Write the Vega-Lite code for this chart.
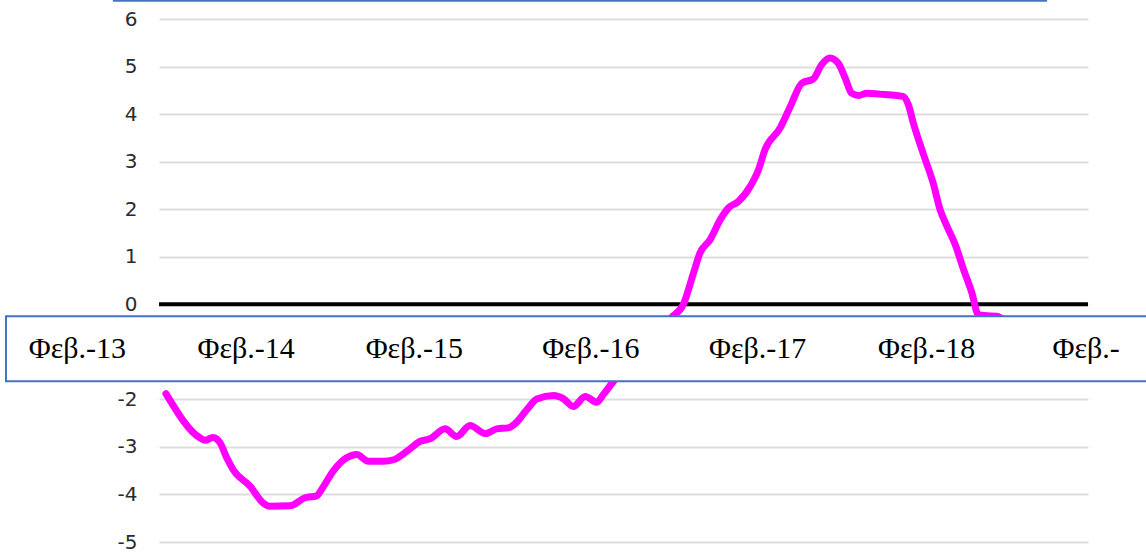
{
  "$schema": "https://vega.github.io/schema/vega-lite/v6.json",
  "autosize": "none",
  "width": 929,
  "height": 523,
  "padding": {"left": 159, "top": 19, "right": 58, "bottom": 12},
  "background": "white",
  "config": {"view": {"stroke": null}},
  "datasets": {
    "series": [
      {"date": "2013-08-10", "value": -1.88},
      {"date": "2013-10-23", "value": -2.81},
      {"date": "2013-11-03", "value": -2.86},
      {"date": "2013-11-20", "value": -2.8},
      {"date": "2013-12-06", "value": -2.92},
      {"date": "2013-12-20", "value": -3.23},
      {"date": "2014-01-03", "value": -3.48},
      {"date": "2014-02-09", "value": -3.83},
      {"date": "2014-03-09", "value": -4.18},
      {"date": "2014-03-24", "value": -4.25},
      {"date": "2014-05-06", "value": -4.24},
      {"date": "2014-06-08", "value": -4.07},
      {"date": "2014-07-03", "value": -4.03},
      {"date": "2014-07-18", "value": -3.83},
      {"date": "2014-08-08", "value": -3.51},
      {"date": "2014-09-06", "value": -3.23},
      {"date": "2014-09-28", "value": -3.16},
      {"date": "2014-10-23", "value": -3.3},
      {"date": "2014-11-25", "value": -3.3},
      {"date": "2014-12-17", "value": -3.27},
      {"date": "2015-01-15", "value": -3.09},
      {"date": "2015-02-13", "value": -2.88},
      {"date": "2015-03-06", "value": -2.83},
      {"date": "2015-04-08", "value": -2.62},
      {"date": "2015-05-03", "value": -2.78},
      {"date": "2015-06-01", "value": -2.55},
      {"date": "2015-07-04", "value": -2.72},
      {"date": "2015-07-29", "value": -2.62},
      {"date": "2015-08-23", "value": -2.6},
      {"date": "2015-09-10", "value": -2.48},
      {"date": "2015-10-02", "value": -2.22},
      {"date": "2015-10-24", "value": -1.99},
      {"date": "2015-11-29", "value": -1.92},
      {"date": "2015-12-21", "value": -1.99},
      {"date": "2016-01-11", "value": -2.15},
      {"date": "2016-02-06", "value": -1.94},
      {"date": "2016-03-02", "value": -2.06},
      {"date": "2016-03-16", "value": -1.9},
      {"date": "2016-04-04", "value": -1.66},
      {"date": "2016-05-02", "value": -1.35},
      {"date": "2016-06-04", "value": -0.95},
      {"date": "2016-07-07", "value": -0.6},
      {"date": "2016-08-12", "value": -0.27},
      {"date": "2016-09-06", "value": 0.0},
      {"date": "2016-09-28", "value": 0.66},
      {"date": "2016-10-12", "value": 1.08},
      {"date": "2016-11-03", "value": 1.36},
      {"date": "2016-11-25", "value": 1.78},
      {"date": "2016-12-13", "value": 2.03},
      {"date": "2017-01-03", "value": 2.16},
      {"date": "2017-01-29", "value": 2.48},
      {"date": "2017-02-16", "value": 2.83},
      {"date": "2017-03-02", "value": 3.25},
      {"date": "2017-04-04", "value": 3.71},
      {"date": "2017-04-26", "value": 4.16},
      {"date": "2017-05-21", "value": 4.65},
      {"date": "2017-06-15", "value": 4.74},
      {"date": "2017-07-03", "value": 5.04},
      {"date": "2017-07-21", "value": 5.18},
      {"date": "2017-08-08", "value": 5.07},
      {"date": "2017-08-23", "value": 4.76},
      {"date": "2017-09-06", "value": 4.44},
      {"date": "2017-09-21", "value": 4.39},
      {"date": "2017-10-09", "value": 4.44},
      {"date": "2017-11-07", "value": 4.42},
      {"date": "2017-12-13", "value": 4.39},
      {"date": "2017-12-27", "value": 4.37},
      {"date": "2018-01-07", "value": 4.2},
      {"date": "2018-01-18", "value": 3.81},
      {"date": "2018-02-09", "value": 3.15},
      {"date": "2018-03-02", "value": 2.55},
      {"date": "2018-03-17", "value": 1.99},
      {"date": "2018-04-01", "value": 1.64},
      {"date": "2018-04-19", "value": 1.25},
      {"date": "2018-05-07", "value": 0.73},
      {"date": "2018-05-25", "value": 0.24},
      {"date": "2018-06-08", "value": -0.22},
      {"date": "2018-06-26", "value": -0.24},
      {"date": "2018-07-18", "value": -0.25},
      {"date": "2018-08-01", "value": -0.32}
    ],
    "labels": [
      {"date": "2013-01-30", "label": "Φεβ.-13"},
      {"date": "2014-01-31", "label": "Φεβ.-14"},
      {"date": "2015-01-31", "label": "Φεβ.-15"},
      {"date": "2016-02-18", "label": "Φεβ.-16"},
      {"date": "2017-02-14", "label": "Φεβ.-17"},
      {"date": "2018-02-16", "label": "Φεβ.-18"},
      {"date": "2019-01-28", "label": "Φεβ.-"}
    ]
  },
  "layer": [
    {
      "data": {"values": [{}]},
      "mark": {"type": "rule", "color": "#000000", "strokeWidth": 4},
      "encoding": {
        "y": {
          "datum": 0,
          "type": "quantitative",
          "scale": {"domain": [-5, 6], "nice": false, "zero": false},
          "axis": {
            "values": [-5, -4, -3, -2, 0, 1, 2, 3, 4, 5, 6],
            "title": null,
            "grid": true,
            "domain": false,
            "ticks": false,
            "tickSize": 0,
            "labelPadding": 22,
            "labelFont": "DejaVu Sans",
            "labelFontSize": 20,
            "labelColor": "#2b2b2b",
            "labelExpr": "replace(datum.label, '\u2212', '-')",
            "gridColor": "#dddddd",
            "gridWidth": 2
          }
        }
      }
    },
    {
      "data": {"name": "series"},
      "mark": {
        "type": "line",
        "color": "#FF00FF",
        "strokeWidth": 7,
        "strokeCap": "round",
        "strokeJoin": "round",
        "interpolate": "monotone"
      },
      "encoding": {
        "x": {
          "field": "date",
          "type": "temporal",
          "scale": {"domain": [{"expr": "utc(2013, 6, 26)"}, {"expr": "utc(2019, 1, 1)"}]},
          "axis": null
        },
        "y": {"field": "value", "type": "quantitative"}
      }
    },
    {
      "data": {"values": [{}]},
      "mark": {"type": "rect", "fill": "#ffffff", "stroke": "#4472C4", "strokeWidth": 2},
      "encoding": {
        "x": {"datum": {"expr": "utc(2012, 7, 28)"}, "type": "temporal"},
        "x2": {"datum": {"expr": "utc(2021, 0, 1)"}},
        "y": {"datum": -0.254, "type": "quantitative"},
        "y2": {"datum": -1.62}
      }
    },
    {
      "data": {"name": "labels"},
      "mark": {
        "type": "text",
        "font": "Liberation Serif",
        "fontSize": 30,
        "color": "#000000",
        "align": "center",
        "baseline": "alphabetic"
      },
      "encoding": {
        "x": {"field": "date", "type": "temporal"},
        "y": {"datum": -1.134, "type": "quantitative"},
        "text": {"field": "label", "type": "nominal"}
      }
    },
    {
      "data": {"values": [{}]},
      "mark": {"type": "rule", "color": "#4472C4", "strokeWidth": 2},
      "encoding": {
        "x": {"datum": {"expr": "utc(2013, 3, 17)"}, "type": "temporal"},
        "x2": {"datum": {"expr": "utc(2018, 10, 4)"}},
        "y": {"datum": 6.385, "type": "quantitative"}
      }
    }
  ]
}
